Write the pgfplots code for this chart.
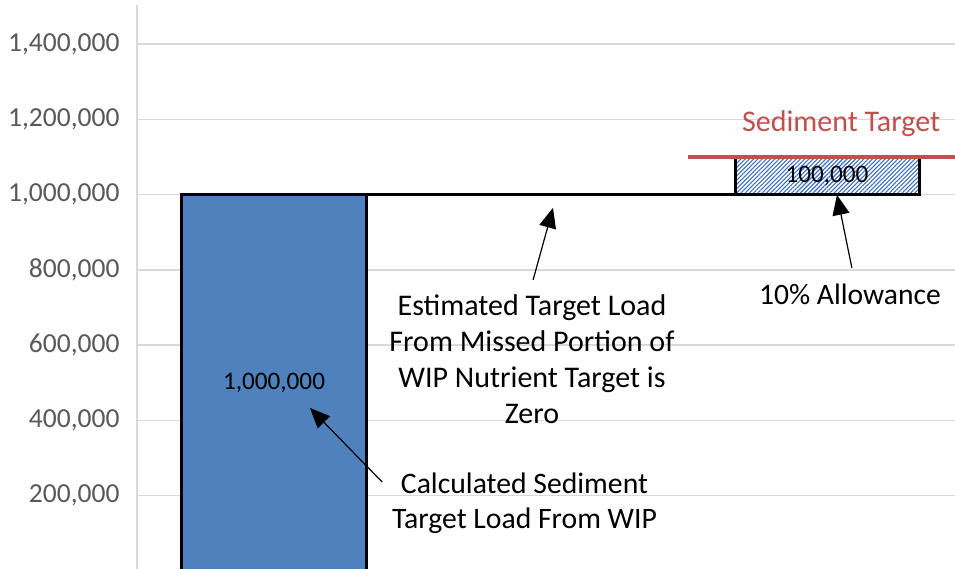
\documentclass[border=0pt]{standalone}
\usepackage{fontspec}
\setmainfont{Carlito}
\usepackage{pgfplots}
\pgfplotsset{compat=1.18}
\usetikzlibrary{arrows.meta,patterns.meta}
\definecolor{barblue}{HTML}{4F81BD}
\definecolor{hatchblue}{HTML}{3A6EC0}
\definecolor{tgtred}{HTML}{C0504D}
\definecolor{gridgray}{HTML}{D9D9D9}
\definecolor{ticktext}{HTML}{595959}
\begin{document}
\begin{tikzpicture}
\begin{axis}[
  name=main,
  scale only axis, width=818pt, height=566pt,
  xmin=-0.4955, xmax=2.4629, ymin=0, ymax=1504000,
  clip=true,
  axis x line*=bottom, axis y line*=left,
  x axis line style={draw=none},
  y axis line style={draw=gridgray, line width=1.5pt},
  xtick=\empty,
  ytick={200000,400000,600000,800000,1000000,1200000,1400000},
  major tick length=0pt,
  scaled y ticks=false,
  ymajorgrids, grid style={gridgray, line width=1.5pt},
  yticklabel style={text=ticktext, font=\fontsize{27.5}{30}\selectfont, xshift=-14pt,
    /pgf/number format/fixed, /pgf/number format/1000 sep={,}},
  /pgf/number format/assume math mode=true,
]
% connector line at 1,000,000
\addplot[black, line width=3pt] coordinates {(0.3327,1000000) (1.6673,1000000)};
% bar 1
\addplot[ybar, bar width=0.6655, bar shift=0pt, fill=barblue, draw=black, line width=3pt] coordinates {(0,1000000)};
% bar 3 (floating, 1,000,000 to 1,100,000)
\addplot[pattern={Lines[angle=45,distance=3pt,line width=1.1pt]}, pattern color=hatchblue, draw=black, line width=3pt] coordinates {(1.6673,1000000) (2.3327,1000000) (2.3327,1100000) (1.6673,1100000)} -- cycle;
% sediment target line
\addplot[tgtred, line width=4pt] coordinates {(1.497,1100000) (2.4629,1100000)};

\node[font=\fontsize{25.2}{28}\selectfont] at (axis cs:0,500000) {1,000,000};
\node[font=\fontsize{25.2}{28}\selectfont] at (axis cs:2,1050000) {100,000};
\node[font=\fontsize{30}{34}\selectfont, text=tgtred] at (axis cs:2.051,1188000) {Sediment Target};
\node[font=\fontsize{29.6}{34}\selectfont] at (axis cs:2.083,736000) {10\% Allowance};
\node[font=\fontsize{30}{36}\selectfont, align=center] at (axis cs:0.933,563500) {Estimated Target Load\\From Missed Portion of\\WIP Nutrient Target is\\Zero};
\node[font=\fontsize{29.7}{35}\selectfont, align=center] at (axis cs:0.906,179400) {Calculated Sediment\\Target Load From WIP};

\draw[-{Triangle[length=20pt,width=17pt]}, line width=1.2pt] (axis cs:0.391,236562) -- (axis cs:0.130,433254);
\draw[-{Triangle[length=20pt,width=17pt]}, line width=1.2pt] (axis cs:0.937,773478) -- (axis cs:1.009,964854);
\draw[-{Triangle[length=20pt,width=17pt]}, line width=1.2pt] (axis cs:2.090,805374) -- (axis cs:2.036,999408);
\end{axis}
\pgfresetboundingbox
\path[use as bounding box] ([xshift=-137pt,yshift=2pt]main.south west) rectangle ([yshift=5pt]main.north east);
\end{tikzpicture}
\end{document}
